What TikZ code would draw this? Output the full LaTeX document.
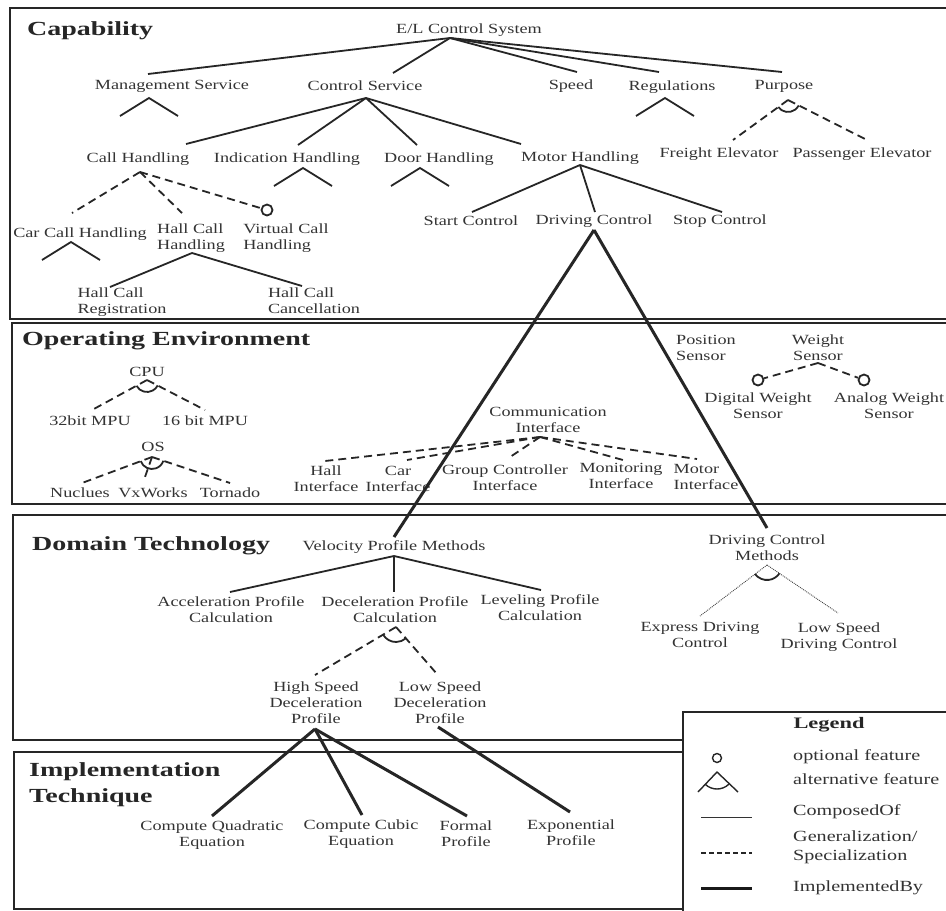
\documentclass[tikz,border=0pt]{standalone}
\usepackage{fontspec}
\setmainfont[FakeStretch=1.3]{Liberation Serif}
\newfontfamily\headfont[FakeStretch=1.4]{Liberation Serif}
\usetikzlibrary{calc}

\begin{document}
\begin{tikzpicture}[x=1pt,y=-1pt,
  feat/.style={inner sep=0pt, align=center, text=black!80, font=\fontsize{14}{16}\selectfont},
  featl/.style={feat, align=left},
  legtext/.style={inner sep=0pt, align=left, anchor=west, text=black!80, font=\fontsize{15.5}{19}\selectfont},
  head/.style={anchor=west, inner sep=0pt, align=left, text=black!85, font=\headfont\bfseries\fontsize{20}{26}\selectfont},
  panel/.style={draw=black!85, line width=2.8pt},
  comp/.style={draw=black!85, line width=1.8pt},
  gen/.style={draw=black!85, line width=1.8pt, dash pattern=on 8pt off 5pt},
  impl/.style={draw=black!85, line width=3pt},
  thinalt/.style={draw=black!75, line width=0.9pt, densely dotted},
  optc/.style={circle, draw=black!85, line width=1.8pt, minimum size=11pt, inner sep=0pt},
]
\fill[white] (0,0) rectangle (946,911);
\useasboundingbox (0,0) rectangle (946,911);

% ---------- layer panels ----------
\draw[panel] (10,8) rectangle (950,319);
\draw[panel] (12,323) rectangle (950,504);
\draw[panel] (13,515) rectangle (950,740);
\draw[panel] (14,752) rectangle (950,909);

% ---------- Capability ----------
\node[head] (capH) at (27,31) {Capability};
\node[feat] (el) at (469,30) {E/L Control System};
\node[feat] (ms) at (172,86) {Management Service};
\node[feat] (cs) at (365,86) {Control Service};
\node[feat] (sp) at (571,86) {Speed};
\node[feat] (rg) at (672,87) {Regulations};
\node[feat] (pu) at (784,86) {Purpose};
\node[feat] (fe) at (719,154) {Freight Elevator};
\node[feat] (pe) at (862,154) {Passenger Elevator};
\node[feat] (ch) at (138,159) {Call Handling};
\node[feat] (ih) at (287,159) {Indication Handling};
\node[feat] (dh) at (439,159) {Door Handling};
\node[feat] (mh) at (580,158) {Motor Handling};
\node[feat] (cc) at (80,234) {Car Call Handling};
\node[featl] (hc) at (191,238) {Hall Call\\Handling};
\node[featl] (vc) at (286,238) {Virtual Call\\Handling};
\node[featl] (hr) at (122,302) {Hall Call\\Registration};
\node[featl] (hx) at (314,301) {Hall Call\\Cancellation};
\node[feat] (sc) at (471,221) {Start Control};
\node[feat] (dc) at (594,221) {Driving Control};
\node[feat] (st) at (720,221) {Stop Control};

\coordinate (elA) at ([shift={(-19,8)}]el.center);
\foreach \n/\dx/\dy in {ms/-24/-12, cs/28/-13, sp/6/-14, rg/-13/-15, pu/-2/-14}
  \draw[comp] (elA) -- ([shift={(\dx,\dy)}]\n.center);

% composition marks of features whose children are not shown
\coordinate (msA) at ([shift={(-23,12)}]ms.center);
\coordinate (rgA) at ([shift={(-7,11)}]rg.center);
\coordinate (ihA) at ([shift={(16,9)}]ih.center);
\coordinate (dhA) at ([shift={(-19,9)}]dh.center);
\coordinate (ccA) at ([shift={(-9,8)}]cc.center);
\foreach \a in {msA,rgA,ihA,dhA,ccA}
  \draw[comp] ([shift={(-29,18)}]\a) -- (\a) -- ([shift={(29,18)}]\a);

\coordinate (puA) at ([shift={(4,14)}]pu.center);
\draw[gen] (puA) -- ([shift={(14,-14)}]fe.center);
\draw[gen] (puA) -- ([shift={(3,-15)}]pe.center);
\draw[comp] ([shift={(144:12)}]puA) arc[start angle=144, end angle=27, radius=12];

\coordinate (csA) at ([shift={(1,12)}]cs.center);
\foreach \n/\dx/\dy in {ch/48/-15, ih/11/-14, dh/-22/-14, mh/-59/-14}
  \draw[comp] (csA) -- ([shift={(\dx,\dy)}]\n.center);

\coordinate (chA) at ([shift={(2,13)}]ch.center);
\draw[gen] (chA) -- ([shift={(-8,-21)}]cc.center);
\draw[gen] (chA) -- ([shift={(-9,-25)}]hc.center);
\node[optc] (vcO) at ([shift={(-19,-28)}]vc.center) {};
\draw[gen] (chA) -- (vcO);

\coordinate (hcA) at ([shift={(1,15)}]hc.center);
\draw[comp] (hcA) -- ([shift={(-12,-15)}]hr.center);
\draw[comp] (hcA) -- ([shift={(-12,-15)}]hx.center);

\coordinate (mhA) at ([shift={(0,7)}]mh.center);
\foreach \n/\dx/\dy in {sc/1/-9, dc/1/-9, st/2/-9}
  \draw[comp] (mhA) -- ([shift={(\dx,\dy)}]\n.center);

% ---------- Operating Environment ----------
\node[head] (oeH) at (22,341) {Operating Environment};
\node[feat] (cpu) at (147,372) {CPU};
\node[feat] (m32) at (90,421) {32bit MPU};
\node[feat] (m16) at (205,421) {16 bit MPU};
\node[feat] (os) at (153,447) {OS};
\node[feat] (nu) at (80,493) {Nuclues};
\node[feat] (vx) at (153,493) {VxWorks};
\node[feat] (tn) at (230,493) {Tornado};
\node[feat] (ci) at (548,420) {Communication\\Interface};
\node[feat] (hi) at (326,479) {Hall\\Interface};
\node[feat] (cai) at (398,479) {Car\\Interface};
\node[feat] (gi) at (505,478) {Group Controller\\Interface};
\node[feat] (mi) at (621,476) {Monitoring\\Interface};
\node[featl] (moi) at (706,477) {Motor\\Interface};
\node[featl] (ps) at (706,348) {Position\\Sensor};
\node[feat] (ws) at (818,348) {Weight\\Sensor};
\node[feat] (dw) at (758,406) {Digital Weight\\Sensor};
\node[feat] (aw) at (889,406) {Analog Weight\\Sensor};

\coordinate (cpuA) at ([shift={(0,8)}]cpu.center);
\draw[gen] (cpuA) -- ([shift={(2,-11)}]m32.center);
\draw[gen] (cpuA) -- ([shift={(0,-11)}]m16.center);
\draw[comp] ([shift={(151:12)}]cpuA) arc[start angle=151, end angle=27, radius=12];

\coordinate (osA) at ([shift={(-1,10)}]os.center);
\draw[gen] (osA) -- ([shift={(2,-10)}]nu.center);
\draw[gen] (osA) -- ([shift={(-8,-16)}]vx.center);
\draw[gen] (osA) -- ([shift={(0,-10)}]tn.center);
\draw[comp] ([shift={(160:12)}]osA) arc[start angle=160, end angle=18, radius=12];

\coordinate (ciA) at ([shift={(-8,17)}]ci.center);
\foreach \n/\dx/\dy in {hi/-1/-18, cai/9/-19, gi/5/-21, mi/2/-16, moi/-9/-18}
  \draw[gen] (ciA) -- ([shift={(\dx,\dy)}]\n.center);

\coordinate (wsA) at ([shift={(0,15)}]ws.center);
\node[optc] (dwO) at ([shift={(0,-26)}]dw.center) {};
\node[optc] (awO) at ([shift={(-25,-26)}]aw.center) {};
\draw[gen] (wsA) -- (dwO);
\draw[gen] (wsA) -- (awO);

% ---------- Domain Technology ----------
\node[head] (dtH) at (32,546) {Domain Technology};
\node[feat] (vp) at (394,547) {Velocity Profile Methods};
\node[feat] (ac) at (231,610) {Acceleration Profile\\Calculation};
\node[feat] (de) at (395,610) {Deceleration Profile\\Calculation};
\node[feat] (lv) at (540,608) {Leveling Profile\\Calculation};
\node[feat] (hs) at (316,703) {High Speed\\Deceleration\\Profile};
\node[feat] (ls) at (440,703) {Low Speed\\Deceleration\\Profile};
\node[feat] (dm) at (767,548) {Driving Control\\Methods};
\node[feat] (ed) at (700,635) {Express Driving\\Control};
\node[feat] (ld) at (839,637) {Low Speed\\Driving Control};

\coordinate (vpA) at ([shift={(0,9)}]vp.center);
\foreach \n/\dx/\dy in {ac/-1/-18, de/-1/-18, lv/1/-18}
  \draw[comp] (vpA) -- ([shift={(\dx,\dy)}]\n.center);

\coordinate (deA) at ([shift={(1,17)}]de.center);
\draw[gen] (deA) -- ([shift={(-1,-28)}]hs.center);
\draw[gen] (deA) -- ([shift={(-3,-29)}]ls.center);
\draw[comp] ([shift={(149:15)}]deA) arc[start angle=149, end angle=49, radius=15];

\coordinate (dmA) at ([shift={(0,17)}]dm.center);
\draw[thinalt] (dmA) -- ([shift={(0,-19)}]ed.center);
\draw[thinalt] (dmA) -- ([shift={(-1,-24)}]ld.center);
\draw[comp] ([shift={(143:15)}]dmA) arc[start angle=143, end angle=34, radius=15];

% ---------- Implementation Technique ----------
\node[head] (itH) at (29,785) {Implementation\\Technique};
\node[feat] (cq) at (212,835) {Compute Quadratic\\Equation};
\node[feat] (cu) at (361,834) {Compute Cubic\\Equation};
\node[feat] (fp) at (466,834) {Formal\\Profile};
\node[feat] (ep) at (571,833) {Exponential\\Profile};

% ---------- implemented-by relations across layers ----------
\coordinate (dcA) at ([shift={(0,9)}]dc.center);
\draw[impl] (dcA) -- ([shift={(0,-10)}]vp.center);
\draw[impl] (dcA) -- ([shift={(0,-20)}]dm.center);

\coordinate (hsA) at ([shift={(-1,26)}]hs.center);
\foreach \n/\dx/\dy in {cq/0/-19, cu/1/-19, fp/1/-18}
  \draw[impl] (hsA) -- ([shift={(\dx,\dy)}]\n.center);
\coordinate (lsA) at ([shift={(-2,24)}]ls.center);
\draw[impl] (lsA) -- ([shift={(-1,-21)}]ep.center);

% ---------- Legend ----------
\draw[panel, fill=white] (683,712) rectangle (950,913);
\node[inner sep=0pt, text=black!85, font=\headfont\bfseries\fontsize{16}{18}\selectfont] (lgH) at (829,725) {Legend};
\node[optc, line width=1.4pt, minimum size=9pt] (lgO) at (717,758) {};
\node[legtext] (lgOt) at (793,757) {optional feature};
\coordinate (lgA) at (717,772);
\draw[comp, line width=1.4pt] ([shift={(-19,20)}]lgA) -- (lgA) -- ([shift={(21,20)}]lgA);
\draw[comp, line width=1.4pt] ([shift={(134:17)}]lgA) arc[start angle=134, end angle=46, radius=17];
\node[legtext] (lgAt) at (793,779) {alternative feature};
\coordinate (lgC1) at (701,817);
\coordinate (lgC2) at (752,817);
\draw[draw=black!80, line width=0.9pt] (lgC1) -- (lgC2);
\node[legtext] (lgCt) at (793,812) {ComposedOf};
\coordinate (lgG1) at (701,853);
\coordinate (lgG2) at (752,853);
\draw[draw=black!85, line width=1.1pt, dash pattern=on 5pt off 3pt] (lgG1) -- (lgG2);
\node[legtext] (lgGt) at (793,847) {Generalization/\\Specialization};
\coordinate (lgI1) at (701,888);
\coordinate (lgI2) at (752,888);
\draw[draw=black!90, line width=3pt] (lgI1) -- (lgI2);
\node[legtext] (lgIt) at (793,888) {ImplementedBy};
\end{tikzpicture}
\end{document}
